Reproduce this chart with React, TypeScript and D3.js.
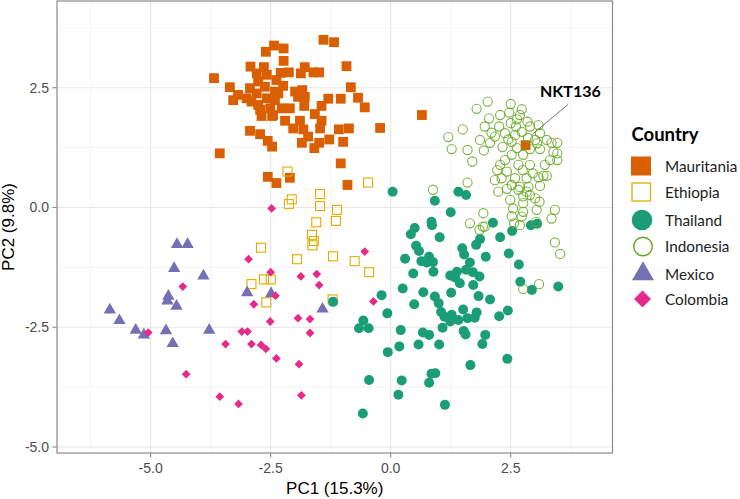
import React from "react";
import * as d3 from "d3";

type P = [number, number];

const mauritania: P[] = [
  [-1.40,3.50],[-1.18,3.45],[-2.43,3.38],[-2.23,3.32],[-2.60,3.25],[-2.23,3.06],[-0.92,2.95],[-2.92,2.94],[-2.64,2.93],[-1.79,2.93],
  [-3.68,2.70],[-2.79,2.80],[-2.58,2.77],[-2.29,2.81],[-2.12,2.82],[-1.87,2.80],[-1.61,2.82],[-1.49,2.82],[-2.76,2.63],[-2.38,2.66],
  [-3.35,2.51],[-2.93,2.49],[-2.62,2.52],[-2.24,2.54],[-1.99,2.42],[-1.84,2.45],[-0.83,2.51],[-3.18,2.35],[-2.79,2.38],[-2.41,2.42],
  [-3.28,2.24],[-2.90,2.21],[-2.58,2.28],[-2.41,2.24],[-1.93,2.31],[-1.79,2.31],[-1.30,2.27],[-1.04,2.27],[-0.68,2.29],[-2.72,2.04],
  [-2.51,2.07],[-2.27,2.07],[-2.10,2.07],[-1.80,2.12],[-1.44,2.12],[-0.54,2.09],[-2.69,1.91],[-2.47,1.91],[-1.58,1.95],[-2.20,1.81],
  [-1.89,1.81],[-1.44,1.81],[-2.93,1.60],[-2.72,1.53],[-2.03,1.65],[-1.82,1.63],[-1.47,1.65],[-1.08,1.63],[-0.87,1.65],[-0.22,1.66],
  [-2.56,1.39],[-2.47,1.27],[-1.85,1.35],[-1.72,1.48],[-1.49,1.35],[-1.28,1.42],[-0.99,1.37],[-1.59,1.24],[-3.56,1.13],[-1.04,0.92],
  [-2.56,0.64],[-2.38,0.51],[-2.10,0.62],[-0.90,0.47],[0.65,1.93],
  [-2.45,1.93],[-3.00,2.28],[-2.76,2.14],[-2.34,2.38],
  [2.81,1.30],
];

const ethiopia: P[] = [
  [-2.15,0.75],[-0.47,0.52],[-2.06,0.17],[-2.12,0.07],[-1.47,0.28],[-1.47,0.03],[-1.12,-0.05],[-1.55,-0.31],[-1.14,-0.28],[-1.64,-0.57],
  [-1.60,-0.70],[-1.63,-0.79],[-2.70,-0.84],[-1.95,-1.08],[-1.20,-1.02],[-0.75,-1.12],[-0.45,-1.35],[-2.90,-1.60],[-2.64,-1.50],[-2.50,-1.50],
  [-2.59,-1.98],[-1.21,-1.92],
];

const thailand: P[] = [
  [0.04,0.33],[1.41,0.33],[1.57,0.26],[0.92,0.14],[1.25,-0.10],[0.85,-0.30],[0.86,-0.37],[2.13,-0.32],[0.50,-0.43],[0.42,-0.56],
  [1.02,-0.62],[2.28,-0.62],[2.53,-0.49],[2.92,-0.37],[3.05,-0.34],[0.53,-0.80],[0.59,-0.91],[1.78,-0.78],[1.86,-0.66],[1.49,-0.85],
  [1.53,-0.98],[2.46,-0.96],[1.98,-1.03],[0.30,-1.07],[0.64,-1.12],[0.80,-1.03],[0.88,-1.14],[0.75,-1.15],[1.65,-1.15],[2.67,-1.19],
  [0.89,-1.34],[0.47,-1.38],[1.38,-1.34],[1.57,-1.30],[1.71,-1.35],[1.24,-1.42],[1.34,-1.46],[1.85,-1.44],[1.44,-1.58],[1.72,-1.62],
  [2.70,-1.55],[2.94,-1.72],[3.49,-1.65],[0.25,-1.69],[1.26,-1.78],[-0.19,-1.83],[0.68,-1.77],[1.83,-1.85],[2.07,-1.92],[0.92,-1.86],
  [0.49,-2.02],[1.00,-2.00],[-0.07,-2.21],[1.05,-2.18],[1.12,-2.28],[1.27,-2.24],[1.51,-2.13],[1.79,-2.19],[2.44,-2.15],[2.26,-2.27],
  [1.24,-2.38],[1.41,-2.35],[1.60,-2.31],[1.75,-2.30],[-0.57,-2.36],[-0.66,-2.52],[-0.46,-2.52],[0.21,-2.56],[1.08,-2.51],[0.67,-2.61],
  [0.80,-2.66],[1.52,-2.58],[1.56,-2.65],[1.97,-2.66],[1.91,-2.85],[-0.06,-3.02],[0.18,-2.90],[0.58,-2.86],[1.01,-2.86],[1.66,-3.29],
  [2.43,-3.16],[0.85,-3.47],[0.93,-3.46],[0.80,-3.66],[-0.45,-3.60],[0.23,-3.61],[0.16,-3.91],[1.13,-4.12],[-0.58,-4.30],[-1.20,-1.97],
];

const indonesia: P[] = [
  [2.02,2.21],[2.50,2.16],[1.79,2.06],[2.47,1.98],[2.73,2.05],[2.69,1.93],[2.05,1.86],[2.63,1.84],[2.85,1.79],[1.96,1.69],
  [2.26,1.69],[2.50,1.76],[2.61,1.69],[2.90,1.69],[3.08,1.72],[1.50,1.63],[2.10,1.56],[2.38,1.55],[2.73,1.58],[3.11,1.55],
  [1.20,1.47],[2.17,1.48],[2.45,1.42],[3.01,1.41],[3.25,1.41],[3.35,1.35],[3.47,1.35],[2.07,1.35],[2.52,1.37],[3.05,1.34],
  [1.27,1.22],[1.60,1.20],[1.94,1.19],[2.33,1.26],[2.63,1.24],[2.90,1.22],[3.11,1.22],[3.39,1.16],[3.47,1.13],[2.52,1.10],
  [2.76,1.10],[1.70,0.96],[3.32,0.99],[3.47,0.99],[2.66,0.89],[2.90,0.89],[2.28,0.89],[2.22,0.78],[2.42,0.75],[2.75,0.78],
  [2.96,0.71],[3.18,0.66],[3.25,0.66],[2.31,0.61],[2.59,0.61],[2.83,0.61],[3.08,0.63],[1.60,0.52],[2.52,0.47],[2.69,0.43],
  [2.87,0.43],[3.11,0.45],[2.24,0.33],[2.42,0.39],[2.66,0.37],[2.83,0.33],[2.76,0.23],[3.01,0.19],[3.10,0.12],[2.49,0.16],
  [2.76,0.09],[2.55,-0.02],[3.04,-0.05],[3.42,-0.05],[1.93,-0.12],[2.76,-0.09],[2.52,-0.18],[2.73,-0.19],[3.35,-0.23],[1.65,-0.33],
  [1.92,-0.40],[2.57,-0.33],[2.69,-0.37],[3.03,-0.30],[3.42,-0.73],[3.53,-0.97],[2.76,-1.70],[3.09,-1.60],[0.88,0.37],[1.85,-0.47],
  [1.96,-0.40],[2.28,1.93],[2.86,1.45],[3.21,0.89],[2.38,0.99],[2.90,0.26],[2.17,0.57],[2.59,1.51],[1.86,1.41],
];

const mexico: P[] = [
  [-4.45,-0.77],[-4.23,-0.77],[-4.51,-1.27],[-3.90,-1.43],[-4.63,-1.85],[-4.65,-1.95],[-4.46,-2.06],[-5.85,-2.14],[-5.65,-2.36],[-5.31,-2.56],
  [-5.14,-2.66],[-4.68,-2.57],[-4.54,-2.84],[-3.78,-2.56],[-2.99,-1.78],[-2.49,-1.80],[-1.42,-2.12],
];

const colombia: P[] = [
  [-2.48,-0.02],[-2.96,-1.08],[-2.50,-1.35],[-1.87,-1.44],[-1.54,-1.39],[-1.49,-1.62],[-4.33,-1.65],[-2.40,-1.84],[-2.85,-2.02],[-2.51,-2.38],
  [-1.93,-2.31],[-1.68,-2.33],[-1.68,-2.62],[-5.05,-2.61],[-3.10,-2.59],[-2.98,-2.59],[-3.44,-2.85],[-2.90,-2.85],[-2.70,-2.87],[-2.60,-2.95],
  [-2.38,-3.15],[-1.91,-3.27],[-4.26,-3.48],[-3.56,-3.95],[-3.17,-4.10],[-1.86,-3.92],[-0.54,-0.92],[-0.36,-1.96],
];

const countries = ["Mauritania", "Ethiopia", "Thailand", "Indonesia", "Mexico", "Colombia"];
const majorTicks = [-5, -2.5, 0, 2.5];
const minorX = [-6.25, -3.75, -1.25, 1.25, 3.75];
const minorY = [-3.75, -1.25, 1.25, 3.75];
const highlightLabel = "NKT136";

const COL = {
  Mauritania: "#d95f02",
  Ethiopia: "#e6ab02",
  Thailand: "#1b9e77",
  Indonesia: "#66a61e",
  Mexico: "#7570b3",
  Colombia: "#e7298a",
};

const W = 740, H = 499;
const L = 57, R = 612.5, T = 1, B = 453;
const x = d3.scaleLinear().domain([-6.95, 4.62]).range([L, R]);
const y = d3.scaleLinear().domain([-5.125, 4.31]).range([B, T]);

const AXF = "'Liberation Sans', Arial, sans-serif";
const LGF = "Lato, 'Open Sans', sans-serif";

const triPath = d3.symbol(d3.symbolTriangle, 66)()!;
const triLegend = d3.symbol(d3.symbolTriangle, 210)()!;

function Square({ p, s, fill, stroke }: { p: P; s: number; fill?: string; stroke?: string }) {
  return (
    <rect x={x(p[0]) - s / 2} y={y(p[1]) - s / 2} width={s} height={s}
      fill={fill || "none"} stroke={stroke || "none"} strokeWidth={stroke ? 1.1 : 0} />
  );
}

export default function App() {
  const fmt = (v: number) => v.toFixed(1);
  const lx = 641;
  const legendY = [166, 192, 220, 246.5, 274, 299];
  return (
    <div style={{ position: "absolute", left: 0, top: 0 }}>
      <svg width={W} height={H} style={{ display: "block", background: "#fff" }}>
        <rect x={0} y={0} width={W} height={H} fill="#fff" />
        <g>
          {minorX.map((v) => (
            <line key={"mx" + v} x1={x(v)} x2={x(v)} y1={T} y2={B} stroke="#f2f2f2" strokeWidth={0.8} />
          ))}
          {minorY.map((v) => (
            <line key={"my" + v} y1={y(v)} y2={y(v)} x1={L} x2={R} stroke="#f2f2f2" strokeWidth={0.8} />
          ))}
          {majorTicks.map((v) => (
            <line key={"gx" + v} x1={x(v)} x2={x(v)} y1={T} y2={B} stroke="#e6e6e6" strokeWidth={1.1} />
          ))}
          {majorTicks.map((v) => (
            <line key={"gy" + v} y1={y(v)} y2={y(v)} x1={L} x2={R} stroke="#e6e6e6" strokeWidth={1.1} />
          ))}
        </g>
        <g>
          {mauritania.map((p, i) => (
            <Square key={"ma" + i} p={p} s={9.8} fill={COL.Mauritania} />
          ))}
          {ethiopia.map((p, i) => (
            <Square key={"et" + i} p={p} s={9} stroke={COL.Ethiopia} />
          ))}
          {thailand.map((p, i) => (
            <circle key={"th" + i} cx={x(p[0])} cy={y(p[1])} r={5} fill={COL.Thailand} />
          ))}
          {indonesia.map((p, i) => (
            <circle key={"in" + i} cx={x(p[0])} cy={y(p[1])} r={4.6} fill="none" stroke={COL.Indonesia} strokeWidth={1.1} strokeOpacity={0.85} />
          ))}
          {mexico.map((p, i) => (
            <path key={"mx" + i} d={triPath} transform={`translate(${x(p[0])},${y(p[1])})`} fill={COL.Mexico} />
          ))}
          {colombia.map((p, i) => (
            <rect key={"co" + i} x={-3.1} y={-3.1} width={6.2} height={6.2}
              transform={`translate(${x(p[0])},${y(p[1])}) rotate(45)`} fill={COL.Colombia} />
          ))}
        </g>
        <rect x={L} y={T} width={R - L} height={B - T} fill="none" stroke="#8a8a8a" strokeWidth={1.2} />
        <g fontFamily={AXF} fontSize={14} fill="#4d4d4d">
          {majorTicks.map((v) => (
            <g key={"tx" + v}>
              <line x1={x(v)} x2={x(v)} y1={B} y2={B + 4.5} stroke="#8a8a8a" strokeWidth={1.1} />
              <text x={x(v)} y={B + 20} textAnchor="middle">{fmt(v)}</text>
            </g>
          ))}
          {majorTicks.map((v) => (
            <g key={"ty" + v}>
              <line x1={L - 4.5} x2={L} y1={y(v)} y2={y(v)} stroke="#8a8a8a" strokeWidth={1.1} />
              <text x={L - 8} y={y(v) + 5} textAnchor="end">{fmt(v)}</text>
            </g>
          ))}
        </g>
        <text x={(L + R) / 2} y={494} textAnchor="middle" fontFamily={AXF} fontSize={17} fill="#000">PC1 (15.3%)</text>
        <text transform={`translate(14,${(T + B) / 2}) rotate(-90)`} textAnchor="middle" fontFamily={AXF} fontSize={17} fill="#000">PC2 (9.8%)</text>
        <line x1={568} y1={104.5} x2={531.5} y2={135} stroke="#555" strokeWidth={0.8} />
        <text x={540} y={96.5} fontFamily={LGF} fontWeight="bold" fontSize={16} fill="#000">{highlightLabel}</text>
        <g fontFamily={LGF}>
          <text x={631.5} y={141} fontWeight="bold" fontSize={18.5} fill="#000">Country</text>
          <rect x={lx - 10} y={legendY[0] - 9.5} width={20} height={19} fill={COL.Mauritania} />
          <rect x={lx - 9} y={legendY[1] - 9} width={18.5} height={18} fill="none" stroke={COL.Ethiopia} strokeWidth={1.3} />
          <circle cx={lx + 1} cy={legendY[2]} r={10.3} fill={COL.Thailand} />
          <circle cx={lx + 2} cy={legendY[3]} r={9.3} fill="none" stroke={COL.Indonesia} strokeWidth={1.4} />
          <path d={triLegend} transform={`translate(${lx + 2},${legendY[4]})`} fill={COL.Mexico} />
          <rect x={-6} y={-6} width={12} height={12} transform={`translate(${lx + 1.5},${legendY[5]}) rotate(45)`} fill={COL.Colombia} />
          {countries.map((c, i) => (
            <text key={c} x={665} y={legendY[i] + 5.5} fontSize={15.3} fill="#222">{c}</text>
          ))}
        </g>
      </svg>
    </div>
  );
}
